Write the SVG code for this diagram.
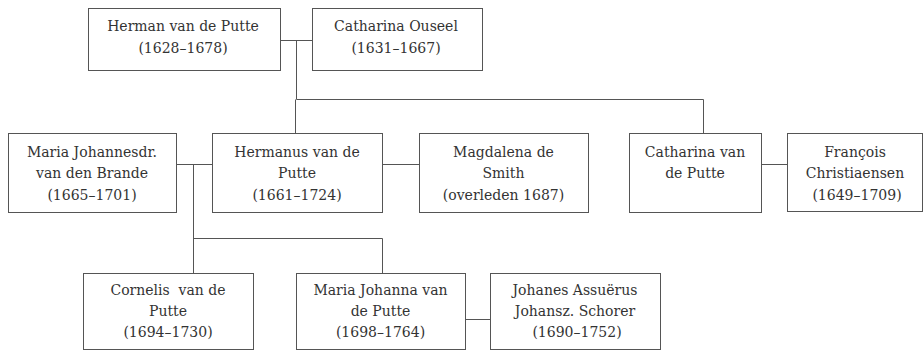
<svg xmlns="http://www.w3.org/2000/svg" width="924" height="351" viewBox="0 0 924 351">
<style>
.box{fill:#fff;stroke:#555;stroke-width:1}
.t{font-family:"DejaVu Serif","Liberation Serif",serif;font-size:14px;fill:#333;text-anchor:middle;white-space:pre}
.c{fill:none;stroke:#555;stroke-width:1}
</style>
<rect width="924" height="351" fill="#fff"/>
<g id="connectors">
<path class="c" d="M280.5 40.5H312.5"/>
<path class="c" d="M296.5 40.5V99.5"/>
<path class="c" d="M296.5 99.5H703.5V133.5"/>
<path class="c" d="M295.5 99.5V133.5"/>
<path class="c" d="M176.5 164.5H212.5"/>
<path class="c" d="M382.5 164.5H419.5"/>
<path class="c" d="M761.5 164.5H787.5"/>
<path class="c" d="M193.5 164.5V273.5"/>
<path class="c" d="M193.5 238.5H382.5V273.5"/>
<path class="c" d="M465.5 319.5H490.5"/>
</g>
<g id="herman"><rect class="box" x="88.5" y="8.5" width="192" height="62"/><text class="t" x="183" y="31">Herman van de Putte</text><text class="t" x="183" y="53">(1628–1678)</text></g>
<g id="catharina-ouseel"><rect class="box" x="312.5" y="8.5" width="170" height="62"/><text class="t" x="396" y="31">Catharina Ouseel</text><text class="t" x="396" y="53">(1631–1667)</text></g>
<g id="maria-brande"><rect class="box" x="8.5" y="133.5" width="168" height="79"/><text class="t" x="92" y="157">Maria Johannesdr.</text><text class="t" x="92" y="178">van den Brande</text><text class="t" x="92" y="200">(1665–1701)</text></g>
<g id="hermanus"><rect class="box" x="212.5" y="133.5" width="170" height="79"/><text class="t" x="297" y="157">Hermanus van de</text><text class="t" x="297" y="178">Putte</text><text class="t" x="297" y="200">(1661–1724)</text></g>
<g id="magdalena"><rect class="box" x="419.5" y="133.5" width="169" height="79"/><text class="t" x="503.5" y="157">Magdalena de</text><text class="t" x="503.5" y="178">Smith</text><text class="t" x="503.5" y="200">(overleden 1687)</text></g>
<g id="catharina-putte"><rect class="box" x="629.5" y="133.5" width="132" height="79"/><text class="t" x="695" y="157">Catharina van</text><text class="t" x="695" y="178">de Putte</text></g>
<g id="francois"><rect class="box" x="787.5" y="133.5" width="135" height="78"/><text class="t" x="855" y="157">François</text><text class="t" x="855" y="178">Christiaensen</text><text class="t" x="857" y="200">(1649–1709)</text></g>
<g id="cornelis"><rect class="box" x="83.5" y="273.5" width="170" height="76"/><text class="t" x="168" y="295" xml:space="preserve">Cornelis  van de</text><text class="t" x="168" y="316">Putte</text><text class="t" x="168" y="337">(1694–1730)</text></g>
<g id="maria-johanna"><rect class="box" x="296.5" y="273.5" width="169" height="76"/><text class="t" x="380.5" y="295">Maria Johanna van</text><text class="t" x="380.5" y="316">de Putte</text><text class="t" x="380.5" y="337">(1698–1764)</text></g>
<g id="johanes"><rect class="box" x="490.5" y="273.5" width="170" height="76"/><text class="t" x="575" y="295">Johanes Assuërus</text><text class="t" x="575" y="316">Johansz. Schorer</text><text class="t" x="577" y="337">(1690–1752)</text></g>
</svg>
